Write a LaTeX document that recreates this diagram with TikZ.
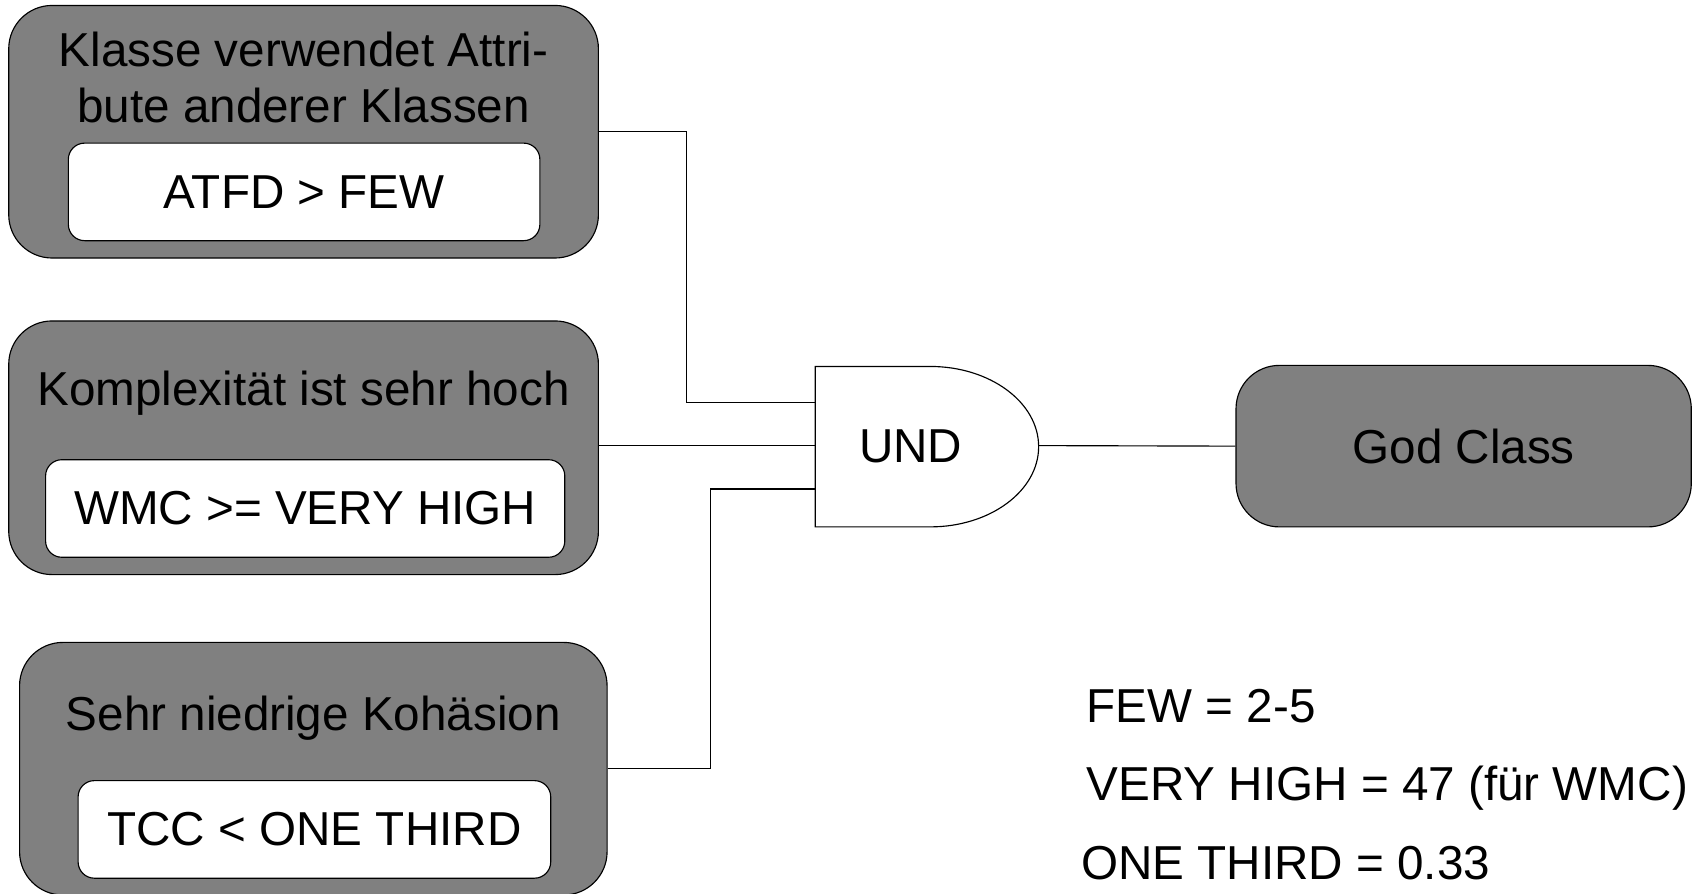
\documentclass[tikz,border=0pt]{standalone}
\usepackage{fontspec}
\setmainfont{Liberation Sans}
\usetikzlibrary{positioning}

\tikzset{
  outerbox/.style={draw=black,fill=gray,rounded corners=0.8cm,minimum width=10.88cm,minimum height=4.66cm},
  innerbox/.style={draw=black,fill=white,rounded corners=0.3cm,minimum height=1.8cm},
  wire/.style={draw=black,line width=0.6pt}
}

\begin{document}
\begin{tikzpicture}[x=0.02cm,y=-0.02cm,font=\fontsize{25}{29.6}\selectfont,line width=0.6pt]
\useasboundingbox (0,0) rectangle (1568,824);
% Bedingungen
\node[outerbox] (atfdbox) at (280,121.5) {};
\node[anchor=base,align=center] (atfdtitle) at (280,113) {Klasse verwendet Attri-\\bute anderer Klassen};
\node[innerbox,minimum width=8.7cm] (atfd) at (280.5,177) {ATFD > FEW};
\node[outerbox,minimum height=4.68cm] (wmcbox) at (280,413) {};
\node[anchor=base] (wmctitle) at (280,374) {Komplexität ist sehr hoch};
\node[innerbox,minimum width=9.58cm] (wmc) at (281.5,469) {WMC >= VERY HIGH};
\node[outerbox,minimum width=10.84cm] (tccbox) at (289,709) {};
\node[anchor=base] (tcctitle) at (289,674) {Sehr niedrige Kohäsion};
\node[innerbox,minimum width=8.72cm] (tcc) at (290,765) {TCC < ONE THIRD};
% UND-Gatter
\draw[fill=white] (752,338) -- (858,338) arc[start angle=90,end angle=-90,x radius=2cm,y radius=1.48cm] -- (752,486) -- cycle;
\node (und) at (840,412) {UND};
\coordinate (in1) at (752,371);
\coordinate (in2) at (752,411);
\coordinate (in3) at (752,451);
\coordinate (out) at (958,411);
% Ergebnis
\node[draw=black,fill=gray,rounded corners=0.8cm,minimum width=8.4cm,minimum height=2.98cm] (god) at (1350,411.5) {God Class};
% Verbindungen
\draw[wire] (atfdbox.east) -- ++(81,0) |- (in1);
\draw[wire] (wmcbox.east |- in2) -- (in2);
\draw[wire] (tccbox.east) -- ++(95,0) |- (in3);
\draw[wire] (out) -- (god.west);
% Schwellwerte
\node[anchor=base west] (few) at (996,666) {FEW = 2-5};
\node[anchor=base west] (veryhigh) at (996,738) {VERY HIGH = 47 (für WMC)};
\node[anchor=base west] (onethird) at (991,811) {ONE THIRD = 0.33};
\end{tikzpicture}
\end{document}
